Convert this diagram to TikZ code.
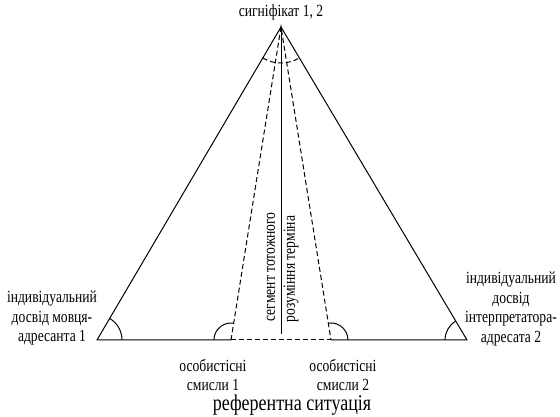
\documentclass[tikz,border=0pt]{standalone}
\usepackage{fontspec}
\setmainfont[FakeStretch=0.8]{Liberation Serif}
\usetikzlibrary{angles}
\tikzset{
  lbl/.style={inner sep=1pt,font=\fontsize{17}{19.5}\selectfont},
  side/.style={line width=1pt},
  dsh/.style={line width=1pt,dash pattern=on 5pt off 3pt},
  ang/.style={draw,line width=1pt}
}
\begin{document}
\begin{tikzpicture}[x=1pt,y=1pt]
\useasboundingbox (0,0) rectangle (560,417);

\coordinate (apex) at (281,390);
\coordinate (left) at (97,77);
\coordinate (right) at (467,77);
\coordinate (footl) at (231,77);
\coordinate (footr) at (331,77);
\coordinate (mid) at (281,83);

\draw[side] (footl) -- (left) -- (apex) -- (right) -- (footr);
\draw[dsh] (footl) -- (footr);
\draw[dsh] (footl) -- (apex) -- (footr);
\draw[side] (apex) -- (mid);

\pic[ang,dsh,angle radius=36] {angle=left--apex--right};
\pic[ang,angle radius=25] {angle=footl--left--apex};
\pic[ang,angle radius=17] {angle=apex--footl--left};
\pic[ang,angle radius=17] {angle=right--footr--apex};
\pic[ang,angle radius=22] {angle=apex--right--footr};

\node[lbl] (sig) at (281,405) {сигніфікат 1, 2};
\node[lbl,align=center] (spk) at (52,99) {індивідуальний\\досвід мовця-\\адресанта 1};
\node[lbl,align=center] (intp) at (511,108) {індивідуальний\\досвід\\інтерпретатора-\\адресата 2};
\node[lbl,align=center] (sens1) at (213,42) {особистісні\\смисли 1};
\node[lbl,align=center] (sens2) at (343,42) {особистісні\\смисли 2};
\node[lbl,rotate=90] (seg1) at (271,150) {сегмент тотожного};
\node[lbl,rotate=90] (seg2) at (291,148) {розуміння терміна};
\node[inner sep=1pt,font=\fontsize{22.5}{24}\selectfont] (ref) at (292,12) {референтна ситуація};

\end{tikzpicture}
\end{document}
